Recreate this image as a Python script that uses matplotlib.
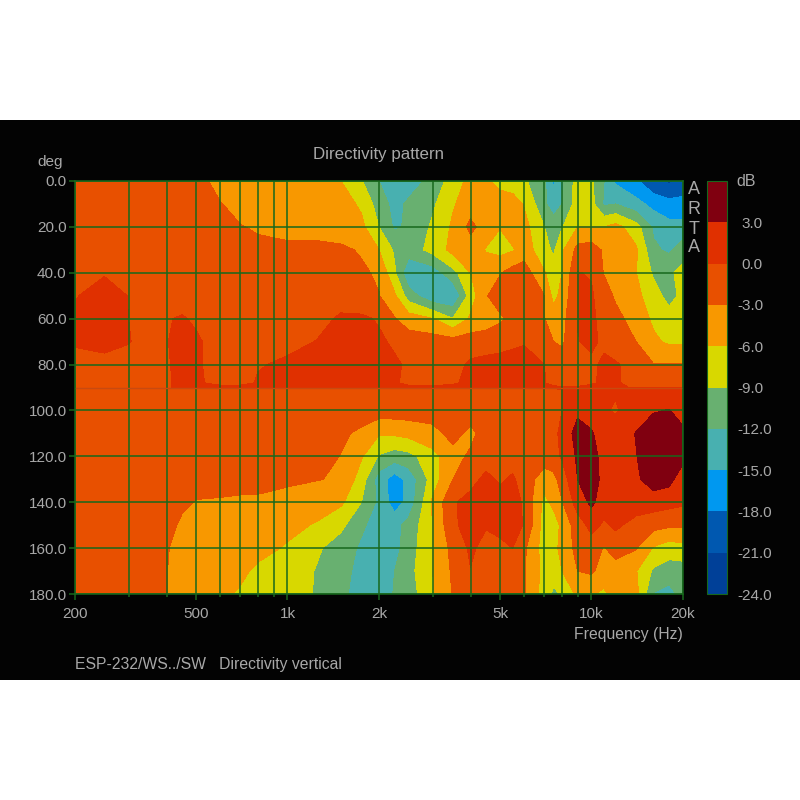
import numpy as np
import matplotlib
matplotlib.use("Agg")
import matplotlib.pyplot as plt
from matplotlib.patches import Rectangle
from matplotlib.transforms import ScaledTranslation

plt.rcParams['font.family'] = ['Liberation Sans', 'DejaVu Sans']

freqs = [200,250,300,350,400,450,500,600,700,800,1000,1250,1500,1750,2000,2250,2500,3000,3500,
         4000,4500,5000,5500,6000,7000,7500,8000,9000,10000,11000,12000,14000,16000,18000,20000]
angles = [0,10,20,30,40,50,60,70,80,88,90,91,100,110,120,130,140,150,160,170,180]
db = [
 [-1.5]*7+[-4.5]*5+[-6,-8.8,-12,-13.5,-13.5,-11,-7.5,-5,-5.5,-7,-7.8,-8.5,-11.5,-15.5,-12.5,-7.5,-8.5,-12,-15.5,-17.5,-20.5,-21.5,-20],
 [-1.5]*7+[-2.8,-4.5,-4.5,-4.5,-4.5,-4.8,-6.5,-10.5,-13,-11.5,-9.5,-6.3,-4.5,-4.5,-4.5,-4.5,-6.2,-11.5,-13.5,-12,-7.5,-8,-12.5,-12,-14,-16,-17,-17],
 [-1.5]*8+[-2.8,-3.5,-4.5,-4.5,-4.5,-5.3,-9,-12.5,-11.5,-8.5,-5.5,-2.2,-4.5,-5.9,-4.5,-5,-9,-10.5,-9.2,-6,-6,-6,-5,-7.8,-12.5,-14,-14],
 [-1.5]*9+[-2,-2,-2,-2.5,-3.3,-6,-9.5,-10.5,-8,-5,-4.5,-6.2,-7,-6.3,-4.5,-8,-9.5,-6.5,-2,-1.5,-3.5,-4.5,-5.5,-11.5,-12.5,-10.5],
 [-1.5,-0.3,-1.5,-1.5]+[-1.5]*9+[-2.5,-3.5,-8.5,-14.5,-13.7,-10,-6,-4.5,-3.2,-1.8,-1.5,-5.8,-7.5,-6,0.1,-0.2,-3.2,-4,-5.9,-9.5,-9.5,-8],
 [-0.2,1.5,-0.1,-1.5]+[-1.5]*9+[-2,-2.9,-5.5,-10.5,-14.5,-14.9,-7.5,-3.2,-1.5,-1.5,-1.5,-3,-7,-5,0.1,0.3,-1.5,-3.5,-5.3,-7.5,-10.3,-8],
 [0.5,1.5,0,-1.5,-0.2,0.3,-0.5,-1.5,-1.5,-1.5,-1.5,-1,0.5,0.5,-0.3,-2.8,-4.5,-5.9,-8.9,-5.5,-4.5,-3.5,-2,-2.3,-2.9,-4.5,-4,0.1,0.5,-1,-2,-4.5,-6.5,-7.5,-7.5],
 [0.5,1.5,0.2,-1.5,-0.2,1.5,0.5,-1.5,-1.5,-1.5,-0.8,0.1,1,1.5,0.5,-0.5,-1.5,-1.5,-1.8,-1.5,-1.5,-1,-0.5,-0.2,-2,-3,-3.5,-0.1,0.5,-0.5,-1.5,-3,-5.5,-6.5,-6.5],
 [-1.5,-1.5,-1.5,-1.5,-0.5,1.5,0.5,-1.5,-1.5,-0.2,0.5,0.7,1.5,1.5,1.5,0.5,-0.5,-1.5,-1,0.5,1,1,1,1,0,-1.5,-1.5,-1.5,-0.5,0.5,0.3,-1.2,-2.9,-2.9,-2.9],
 [-1.5,-1.5,-1.5,-1.5,-0.5,1,0.5,-1,-1,0.3,1,1,1.5,1.5,1,0.5,-1,-1.5,-0.5,1,1.2,1.2,1.2,1,0.2,-1.2,-1.5,-1.5,-0.5,0.8,0.5,-1.5,-1.5,-1.5,-1.5],
 [-1.5,-1.5,-1.5,-1.5,-0.5]+[1]*20+[0.8,0.3,0.5,1,0.8,0.5,-0.3,-0.3,-0.3,-0.3],
 [-1.5]*26+[0.2,1.5,1.5,0.3,0.3,1.5,1.5,1.5,1.5],
 [-1.5]*26+[0,2.2,2,0.3,-0.3,1.5,2.8,3.1,2],
 [-1.5]*12+[-2.5,-3.6,-5.7,-5.5,-5,-4,-2,-3.8,-1.5,-1.5,-1.5,-1.5,-1,-0.5,0.5,4.5,3.2,2,1.5,3.1,4.5,5.5,3.5],
 [-1.5]*11+[-2,-3.1,-5.7,-9.3,-10.5,-10,-7,-4,-2.5,-1.5,-1.5,-1.5,-2,-1.5,-0.8,0.3,3.5,4,2,1.5,2.9,4.5,5.5,4],
 [-1.5]*10+[-2.5,-2.9,-3.3,-7.5,-13.5,-16.5,-14,-7.5,-3,-1,0.8,-0.5,0.5,-1.5,-4.5,-4,-1.5,3,4.5,2,1.5,2.5,4.5,4,1],
 [-1.5]*5+[-2.2,-3.2,-3.4,-3.7,-3.8,-4,-4.5,-5.5,-9,-12.8,-16.5,-14,-5.5,-0.3,1,1.5,1.5,1.5,-0.5,-7,-5,-3.2,1.5,3.6,1.5,1.5,1.5,1.5,1,0.5],
 [-1.5]*5+[-3.8,-4.5,-4.5,-4.5,-4.5,-5.2,-6.3,-8.3,-11.5,-13.5,-13,-11,-6,-0.5,1.2,0.25,1,1.2,-0.2,-7.5,-8,-5,-1.5,1,-0.5,0.5,-1,-2,-2.5,-2.5],
 [-1.5]*4+[-2.7,-4.5,-4.5,-4.5,-4.5,-5.2,-6.3,-8.6,-10.5,-12.5,-13.5,-13,-10.5,-6,-2,0.5,-1,-0.8,0,-2.5,-7.5,-7,-5,-2,-1.5,-3.2,-1.5,-2.8,-6.3,-7.5,-7],
 [-1.5]*4+[-2.9,-4.5,-4.5,-4.5,-5.5,-6.5,-7.5,-9.2,-11,-13,-13.5,-12,-10,-6,-2.5,-0.1,-1.5,-1.5,-1.5,-2.7,-7,-8,-6,-3,-2.5,-4.5,-4.5,-5.8,-9.5,-10.5,-10.5],
 [-1.5]*4+[-2.9,-4.5,-4.5,-5.5,-6.3,-7,-8,-9.2,-11.5,-13,-13.5,-11.8,-10.5,-6.3,-2.8,-1.5,-1.5,-1.5,-1.5,-2.8,-7.5,-9.5,-8.7,-5.3,-5.8,-6.5,-4.5,-5,-12.2,-13,-11],
]
levels = [-24,-21,-18,-15,-12,-9,-6,-3,0,3,6]
band_colors = ['#004098','#0058b0','#0098f0','#48b0b0','#68b070','#d8d800','#f89800','#e85000','#e03000','#800010']
y_ticks = [0,20,40,60,80,100,120,140,160,180]
x_ticks = [200,500,1000,2000,5000,10000,20000]
x_tick_labels = ['200','500','1k','2k','5k','10k','20k']
x_grid = [300,400,600,700,800,900,3000,4000,6000,7000,8000,9000]
cb_labels = ['-24.0','-21.0','-18.0','-15.0','-12.0','-9.0','-6.0','-3.0','0.0','3.0']

GREY = '#a8a8a8'
GRID = '#17681c'
W = H = 800
fig = plt.figure(figsize=(8, 8), dpi=100, facecolor='white')
fig.add_artist(Rectangle((0, 1-680/H), 1, 560/H, transform=fig.transFigure, fc='#030303', ec='none', zorder=-10))

ax = fig.add_axes([75/W, 1-594/H, (683-75)/W, (594-181)/H])
ax.set_xscale('log')
cs = ax.contourf(freqs, angles, np.array(db), levels=levels, colors=band_colors, extend='neither')
ax.set_xlim(200, 20000)
ax.set_ylim(180, 0)
ax.patch.set_alpha(0)
ax.xaxis.set_major_locator(matplotlib.ticker.FixedLocator(x_ticks))
ax.xaxis.set_major_formatter(matplotlib.ticker.FixedFormatter(x_tick_labels))
ax.xaxis.set_minor_locator(matplotlib.ticker.FixedLocator(x_grid))
ax.xaxis.set_minor_formatter(matplotlib.ticker.NullFormatter())
ax.set_yticks(y_ticks)
ax.set_yticklabels([f'{v:.1f}' for v in y_ticks])
ax.grid(True, which='both', color=GRID, lw=1.1)
ax.axhline(90, color='#c84a10', lw=1.0)
ax.tick_params(axis='both', which='both', color=GRID, labelcolor=GREY, labelsize=11, width=1.1)
ax.tick_params(axis='y', length=4, pad=2)
ax.tick_params(axis='x', which='major', length=4, pad=5)
ax.tick_params(axis='x', which='minor', length=2)
for s in ax.spines.values():
    s.set_color(GRID); s.set_linewidth(1.1)

cax = fig.add_axes([707/W, 1-594/H, 20/W, (594-181)/H])
cb = fig.colorbar(cs, cax=cax, ticks=levels[:-1])
cb.ax.set_yticklabels(cb_labels)
cb.ax.tick_params(length=0, labelcolor=GREY, labelsize=11, pad=7.5)
cb.outline.set_edgecolor(GRID); cb.outline.set_linewidth(0.8)
for lab, txt in zip(cb.ax.get_yticklabels(), cb_labels):
    if not txt.startswith('-'):
        lab.set_transform(lab.get_transform() + ScaledTranslation(4/100, 0, fig.dpi_scale_trans))

def t(x, y, s, **kw):
    kw.setdefault('color', GREY); kw.setdefault('fontsize', 11.3)
    kw.setdefault('va', 'center')
    fig.text(x/W, 1-y/H, s, **kw)

t(378.5, 154, 'Directivity pattern', ha='center', fontsize=12.2)
t(50, 162, 'deg', ha='center', fontsize=11)
t(683, 635, 'Frequency (Hz)', ha='right')
t(75, 665, 'ESP-232/WS../SW   Directivity vertical', ha='left')
t(746, 181, 'dB', ha='center', fontsize=11.5)
for ch, yy in zip('ARTA', [190, 209, 229, 248]):
    t(694, yy, ch, ha='center', fontsize=13)

fig.savefig('out.png', dpi=100, facecolor='white')
